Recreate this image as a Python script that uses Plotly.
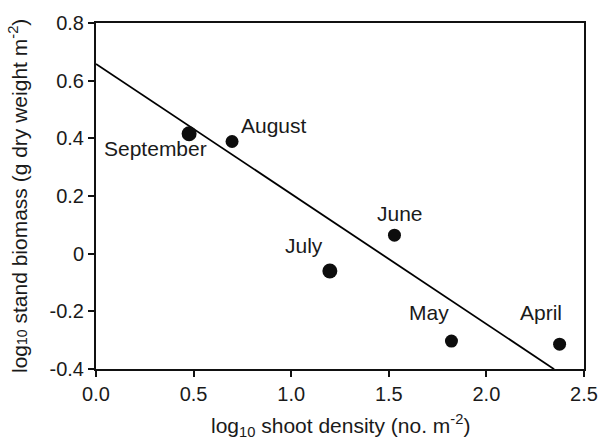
import plotly.graph_objects as go

# Monthly stand observations
months = ["September", "August", "July", "June", "May", "April"]
log_density = [0.477, 0.697, 1.198, 1.529, 1.821, 2.375]
log_biomass = [0.416, 0.389, -0.060, 0.064, -0.303, -0.314]
marker_sizes = [15, 13, 15, 13, 13, 13]

# Label anchor positions (data units) for each month
label_x = [0.305, 0.914, 1.068, 1.559, 1.706, 2.280]
label_y = [0.365, 0.443, 0.030, 0.140, -0.203, -0.203]

# Fitted self-thinning line
fit_intercept = 0.658
fit_slope = -0.451
fit_x_end = 2.347

x_ticks = [0.0, 0.5, 1.0, 1.5, 2.0, 2.5]
y_ticks = [-0.4, -0.2, 0.0, 0.2, 0.4, 0.6, 0.8]
y_tick_text = ["-0.4", "-0.2", "0", "0.2", "0.4", "0.6", "0.8"]

FONT = "Liberation Sans, Arial, sans-serif"
INK = "#1a1a1a"

fig = go.Figure()

fit_x = [0.0, fit_x_end]
fit_y = [fit_intercept + fit_slope * v for v in fit_x]
fig.add_trace(go.Scatter(
    x=fit_x, y=fit_y, mode="lines",
    line=dict(color="#000000", width=1.8),
    hoverinfo="skip", showlegend=False,
))

fig.add_trace(go.Scatter(
    x=log_density, y=log_biomass, mode="markers",
    marker=dict(color="#0d0d0d", size=marker_sizes, opacity=1,
                line=dict(width=0)),
    text=months, showlegend=False,
))

for name, lx, ly in zip(months, label_x, label_y):
    fig.add_annotation(
        x=lx, y=ly, text=name, showarrow=False,
        xanchor="center", yanchor="middle",
        font=dict(family=FONT, size=21, color=INK),
    )

# Axis titles
fig.add_annotation(
    xref="paper", yref="paper", x=0.5, y=0,
    yshift=-56, xanchor="center", yanchor="middle",
    text="log<sub>10</sub> shoot density (no. m<sup>-2</sup>)",
    showarrow=False, font=dict(family=FONT, size=21, color=INK),
)
fig.add_annotation(
    xref="paper", yref="paper", x=0, y=0.5,
    xshift=-78, xanchor="center", yanchor="middle", textangle=-90,
    text="log<span style='font-size:14px'>10</span> stand biomass (g dry weight m<sup>-2</sup>)",
    showarrow=False, font=dict(family=FONT, size=21, color=INK),
)

axis_common = dict(
    showgrid=False, zeroline=False,
    showline=True, linecolor="#111111", linewidth=2, mirror=True,
    ticks="outside", ticklen=6, tickwidth=1.5, tickcolor="#111111",
    tickfont=dict(family=FONT, size=20, color=INK),
)

fig.update_xaxes(
    range=[0, 2.5], tickvals=x_ticks, tickformat=".1f",
    **axis_common,
)
fig.update_yaxes(
    range=[-0.4, 0.8], tickvals=y_ticks, ticktext=y_tick_text,
    **axis_common,
)

fig.update_layout(
    width=610, height=441,
    margin=dict(l=96, r=15, t=17, b=72, pad=0),
    paper_bgcolor="white", plot_bgcolor="white",
    font=dict(family=FONT, color=INK),
)

fig.write_html("out.html")
